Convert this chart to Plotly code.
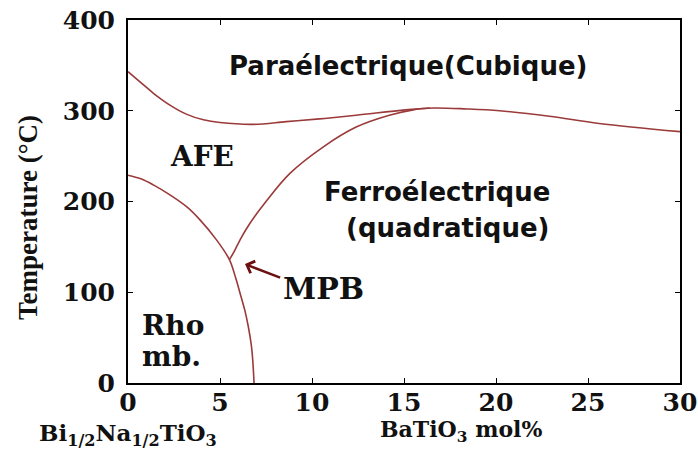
import plotly.graph_objects as go

# Phase boundary: paraelectric (cubic) transition line
para_x = [0, 0.7, 1.4, 2.3, 3.2, 4.1, 5.0, 6.8, 8.6, 10.4, 12.4, 15.1, 16.6, 18.4, 20.2, 22.9, 25.6, 30]
para_y = [343, 331, 319, 306, 296, 290, 287, 285, 288, 291, 295, 301, 303, 302, 300, 294, 286, 277]

# Ferroelectric (tetragonal) boundary from MPB up to paraelectric line
ferro_x = [5.51, 5.72, 6.15, 6.63, 7.5, 8.8, 10.6, 12.4, 14.2, 15.5, 16.4]
ferro_y = [136, 143, 160, 176, 200, 231, 260, 282, 295, 301, 303]

# AFE / Rhombohedral boundary going through the MPB down to 0 °C
rhomb_x = [0, 0.7, 1.4, 2.3, 3.2, 3.9, 4.8, 5.51, 5.85, 6.09, 6.35, 6.54, 6.7, 6.78, 6.85]
rhomb_y = [229, 225, 218, 207, 194, 180, 158, 136, 116, 99, 80, 62, 42, 25, 0]

x_ticks = [0, 5, 10, 15, 20, 25, 30]
y_ticks = [0, 100, 200, 300, 400]

line_color = "#9b3a3a"
serif_b = "DejaVu Serif"

fig = go.Figure()
for xs, ys in [(para_x, para_y), (ferro_x, ferro_y), (rhomb_x, rhomb_y)]:
    fig.add_trace(go.Scatter(x=xs, y=ys, mode="lines",
                             line=dict(color=line_color, width=1.6, shape="spline", smoothing=1.0),
                             showlegend=False, hoverinfo="skip"))

sans = dict(family="DejaVu Sans", size=26, color="#111111", weight="bold")
serif = dict(family=serif_b, size=28, color="#111111", weight="bold")

fig.add_annotation(x=15.2, y=349, text="Paraélectrique(Cubique)", showarrow=False, font=sans)
fig.add_annotation(x=16.8, y=210.5, text="Ferroélectrique", showarrow=False, font=sans)
fig.add_annotation(x=17.4, y=171, text="(quadratique)", showarrow=False, font=sans)
fig.add_annotation(x=4.0, y=250, text="AFE", showarrow=False, font=serif)
fig.add_annotation(x=10.65, y=104, text="MPB", showarrow=False,
                   font=dict(family=serif_b, size=30, color="#111111", weight="bold"))
fig.add_annotation(x=2.45, y=63, text="Rho", showarrow=False, font=serif)
fig.add_annotation(x=2.35, y=29, text="mb.", showarrow=False, font=serif)

# MPB arrow
fig.add_annotation(x=6.36, y=131, ax=8.35, ay=115.4, axref="x", ayref="y",
                   text="", showarrow=True, arrowhead=4, arrowsize=1.0,
                   arrowwidth=2.5, arrowcolor="#6b1010")

# Y axis title (as rotated text, placed like the reference)
fig.add_annotation(x=-0.181, xref="paper", y=0.455, yref="paper", xanchor="center", yanchor="middle",
                   text="Temperature (°C)", textangle=-90, showarrow=False,
                   font=dict(family="Liberation Serif", size=27, color="#111111", weight="bold"))

bottom_font = dict(family=serif_b, size=23, color="#111111", weight="bold")
fig.add_annotation(x=0, xref="x", y=-0.143, yref="paper", xanchor="center", yanchor="middle",
                   text="Bi<sub>1/2</sub>Na<sub>1/2</sub>TiO<sub>3</sub>",
                   showarrow=False, font=bottom_font)
fig.add_annotation(x=18.1, xref="x", y=-0.131, yref="paper", xanchor="center", yanchor="middle",
                   text="BaTiO<sub>3</sub> mol%", showarrow=False,
                   font=dict(family=serif_b, size=22, color="#111111", weight="bold"))

fig.update_layout(
    width=698, height=451,
    margin=dict(l=128, r=18, t=20, b=68),
    paper_bgcolor="white", plot_bgcolor="white",
)
tick_font = dict(family=serif_b, size=25, color="#111111", weight="bold")
fig.update_xaxes(range=[0, 30], tickvals=x_ticks, ticktext=[str(v) for v in x_ticks],
                 showline=True, linecolor="black", linewidth=2, mirror="ticks",
                 ticks="inside", ticklen=5, tickcolor="black", showgrid=False, zeroline=False,
                 tickfont=tick_font, ticklabelstandoff=-4, automargin=False)
fig.update_yaxes(range=[0, 400], tickvals=y_ticks, ticktext=[str(v) for v in y_ticks],
                 showline=True, linecolor="black", linewidth=2, mirror="ticks",
                 ticks="inside", ticklen=5, tickcolor="black", showgrid=False, zeroline=False,
                 tickfont=tick_font, ticklabelstandoff=6, automargin=False)

fig.write_html("out.html")
